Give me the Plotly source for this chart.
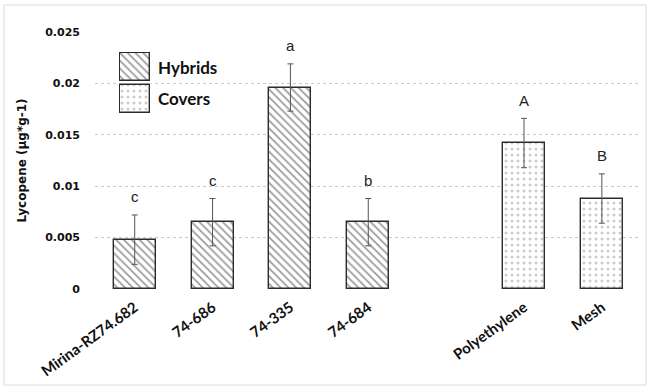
import plotly.graph_objects as go

# ---- data ----
hybrids = ["Mirina-RZ74.682", "74-686", "74-335", "74-684"]
hybrid_vals = [0.0048, 0.0065, 0.0196, 0.0065]
hybrid_err = [0.0024, 0.0023, 0.0023, 0.0023]
hybrid_letters = ["c", "c", "a", "b"]

covers = ["Polyethylene", "Mesh"]
cover_vals = [0.0142, 0.0088]
cover_err = [0.0024, 0.0024]
cover_letters = ["A", "B"]

y_ticks = [0, 0.005, 0.01, 0.015, 0.02, 0.025]
y_tick_text = ["0", "0.005", "0.01", "0.015", "0.02", "0.025"]
y_title = "Lycopene (µg*g-1)"
legend_names = ["Hybrids", "Covers"]

# positions: hybrids first, one empty slot, then covers
hyb_x = list(range(len(hybrids)))
cov_x = [len(hybrids) + 1 + i for i in range(len(covers))]

W, H = 652, 392
ML, MR, MT, MB = 95, 12, 32, 103
PW, PH = W - ML - MR, H - MT - MB


def px_x(p):
    return (p - ML) / PW


def px_y(p):
    return (H - MB - p) / PH


hyb_pattern = dict(shape="\\", size=5.5, solidity=0.33, fgcolor="#3a3a3a", bgcolor="white", fillmode="overlay")
cov_pattern = dict(shape=".", size=6, solidity=0.2, fgcolor="#9a9a9a", bgcolor="white", fillmode="overlay")
bar_line = dict(color="#2b2b2b", width=1.4)
err_style = dict(type="data", thickness=1, width=3, color="#555555")

fig = go.Figure()
fig.add_trace(go.Bar(
    x=hyb_x, y=hybrid_vals, width=0.54, name=legend_names[0],
    marker=dict(color="white", pattern=hyb_pattern, line=bar_line),
    error_y=dict(array=hybrid_err, **err_style), showlegend=False,
))
fig.add_trace(go.Bar(
    x=cov_x, y=cover_vals, width=0.54, name=legend_names[1],
    marker=dict(color="white", pattern=cov_pattern, line=bar_line),
    error_y=dict(array=cover_err, **err_style), showlegend=False,
))

# legend swatches drawn as an inset bar pair
fig.add_trace(go.Bar(
    x=[0], y=[1], base=[1.14], width=1, xaxis="x2", yaxis="y2", showlegend=False,
    marker=dict(color="white", pattern=hyb_pattern, line=bar_line), hoverinfo="skip",
))
fig.add_trace(go.Bar(
    x=[0], y=[1], base=[0], width=1, xaxis="x2", yaxis="y2", showlegend=False,
    marker=dict(color="white", pattern=cov_pattern, line=bar_line), hoverinfo="skip",
))

annotations = []
for xi, v, e, t in zip(hyb_x + cov_x, hybrid_vals + cover_vals,
                       hybrid_err + cover_err, hybrid_letters + cover_letters):
    annotations.append(dict(
        x=xi, y=v + e, xref="x", yref="y", text=t, showarrow=False,
        yanchor="middle", yshift=18,
        font=dict(family="Liberation Sans, Arial", size=15, color="#222222"),
    ))

for name, ypx in zip(legend_names, [67, 99]):
    annotations.append(dict(
        x=px_x(156), y=px_y(ypx), xref="paper", yref="paper", text=name,
        showarrow=False, xanchor="left", yanchor="middle",
        font=dict(family="Lato, Carlito, sans-serif", size=17, color="#111111", weight="bold"),
    ))

fig.update_layout(
    width=W, height=H,
    margin=dict(l=ML, r=MR, t=MT, b=MB, pad=0, autoexpand=False),
    paper_bgcolor="white", plot_bgcolor="white",
    barmode="overlay", bargap=0,
    annotations=annotations,
    xaxis=dict(
        range=[-0.51, len(hybrids) + len(covers) + 0.49], automargin=False,
        tickmode="array", tickvals=hyb_x + cov_x, ticktext=hybrids + covers,
        tickangle=-36, showgrid=False, zeroline=False, showline=False, ticks="",
        ticklabelstandoff=6,
        tickfont=dict(family="Lato, Carlito, sans-serif", size=15, color="#111111", weight="bold"),
    ),
    yaxis=dict(
        range=[0, 0.025], tickmode="array", tickvals=y_ticks, ticktext=y_tick_text,
        automargin=False,
        showgrid=True, gridcolor="#c9c9c9", griddash="dot", gridwidth=1,
        zeroline=False, showline=False, ticks="", ticklabelstandoff=14,
        tickfont=dict(family="DejaVu Sans, Verdana", size=11, color="#111111", weight="bold"),
        title=dict(text=y_title, standoff=16,
                   font=dict(family="DejaVu Sans, Verdana", size=12, color="#111111", weight="bold")),
    ),
    xaxis2=dict(domain=[px_x(119), px_x(151)], range=[-0.52, 0.52], anchor="y2",
                visible=False, fixedrange=True, automargin=False),
    yaxis2=dict(domain=[px_y(114), px_y(52)], range=[-0.02, 2.16], anchor="x2",
                visible=False, fixedrange=True, automargin=False),
    shapes=[dict(type="rect", xref="paper", yref="paper",
                 x0=px_x(4), x1=px_x(646), y0=px_y(385), y1=px_y(5),
                 line=dict(color="#dcdcdc", width=1), layer="below")],
)

fig.write_html(
    "out.html",
    config={"displayModeBar": False},
    post_script="document.body.style.margin='0';document.body.style.overflow='hidden';",
)
